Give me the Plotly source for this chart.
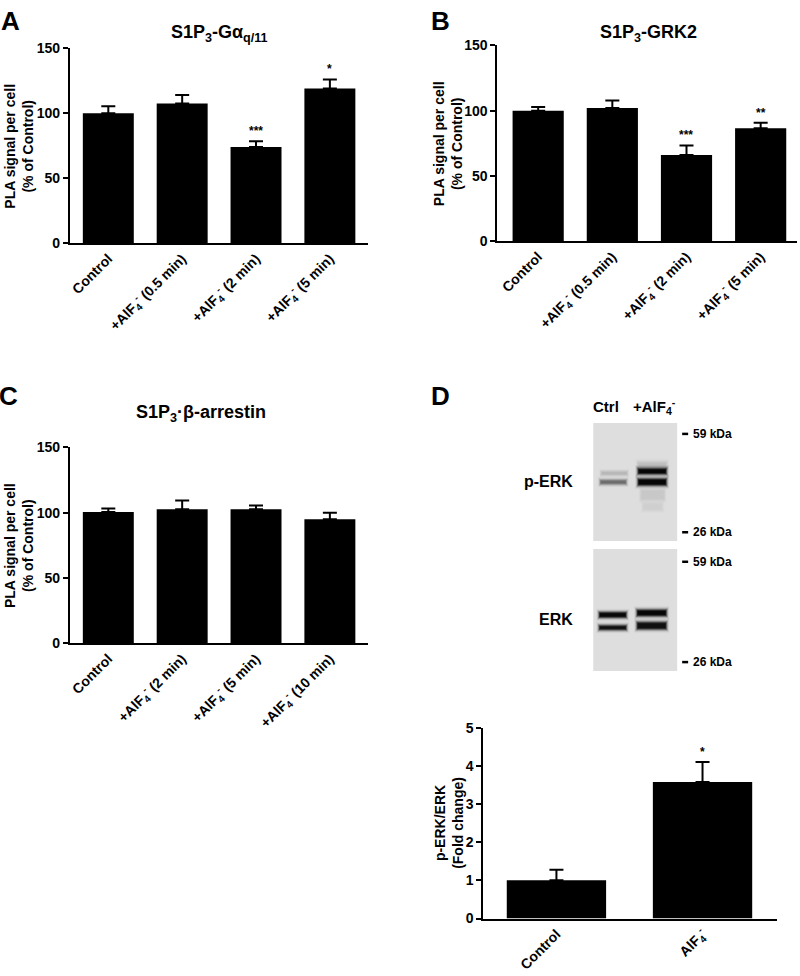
import math
import plotly.graph_objects as go

# ---------------- data ----------------
cats_A = ["Control", "+AlF<sub>4</sub><sup>-</sup> (0.5 min)",
          "+AlF<sub>4</sub><sup>-</sup> (2 min)", "+AlF<sub>4</sub><sup>-</sup> (5 min)"]
vals_A = [100, 107.5, 74, 119]
err_A = [5.3, 6.6, 4.5, 7]
sig_A = ["", "", "***", "*"]

cats_B = cats_A
vals_B = [100, 102, 66, 86.5]
err_B = [2.8, 5.8, 7.3, 4.2]
sig_B = ["", "", "***", "**"]

cats_C = ["Control", "+AlF<sub>4</sub><sup>-</sup> (2 min)",
          "+AlF<sub>4</sub><sup>-</sup> (5 min)", "+AlF<sub>4</sub><sup>-</sup> (10 min)"]
vals_C = [100.5, 102.5, 102.5, 95]
err_C = [2.6, 6.8, 3.0, 5.0]
sig_C = ["", "", "", ""]

cats_D = ["Control", "AlF<sub>4</sub><sup>-</sup>"]
vals_D = [1.0, 3.58]
err_D = [0.28, 0.52]
sig_D = ["", "*"]

# ---------------- helpers ----------------
W, H = 800, 976
FONT = "Liberation Sans, Arial, Helvetica, sans-serif"


def px(x):
    return x / W


def py(y):
    return 1 - y / H


fig = go.Figure()
annotations = []
shapes = []

panels = [
    # name, cats, vals, err, sig, x-dom px, y-dom px (bottom, top), xrange, yrange, dtick, width
    ("", cats_A, vals_A, err_A, sig_A, (69, 367), (239, 41), [-0.52, 3.51], [0, 150], 50, 0.69),
    ("2", cats_B, vals_B, err_B, sig_B, (497, 797), (237, 38), [-0.55, 3.49], [0, 150], 50, 0.69),
    ("3", cats_C, vals_C, err_C, sig_C, (69, 367), (645.7, 446.7), [-0.52, 3.51], [0, 150], 50, 0.69),
    ("4", cats_D, vals_D, err_D, sig_D, (483, 777), (925.7, 731.7), [-0.5, 1.51], [0, 5], 1, 0.68),
]

layout_axes = {}
for name, cats, vals, err, sig, xd, yd, xr, yr, dt, bw in panels:
    xa = "x" + name
    ya = "y" + name
    fig.add_trace(go.Bar(
        x=cats, y=vals, xaxis=xa, yaxis=ya, width=bw,
        marker=dict(color="black", line=dict(width=0)),
        error_y=dict(type="data", array=err, arrayminus=[0] * len(err), symmetric=False,
                     color="black", thickness=2, width=7),
        showlegend=False, hoverinfo="skip",
    ))
    layout_axes["xaxis" + name] = dict(
        domain=[px(xd[0]), px(xd[1])], anchor=ya, range=xr, type="category",
        showline=True, linewidth=2, linecolor="black", ticks="", showgrid=False,
        zeroline=False, tickangle=-45, fixedrange=True,
        tickfont=dict(family=FONT, size=14, color="black", weight="bold"),
    )
    layout_axes["yaxis" + name] = dict(
        domain=[py(yd[0]), py(yd[1])], anchor=xa, range=yr, dtick=dt,
        showline=True, linewidth=2, linecolor="black", ticks="outside",
        ticklen=5, tickwidth=2, tickcolor="black", showgrid=False, zeroline=False,
        fixedrange=True,
        tickfont=dict(family=FONT, size=14, color="black", weight="bold"),
    )
    for c, v, e, s in zip(cats, vals, err, sig):
        if s:
            annotations.append(dict(
                x=c, y=v + e, xref=xa, yref=ya, text=s, showarrow=False,
                yanchor="bottom", yshift=1,
                font=dict(family=FONT, size=12, color="black", weight="bold"),
            ))


def txt(x, y, text, size, angle=0, xanchor="center", yanchor="middle"):
    annotations.append(dict(
        x=px(x), y=py(y), xref="paper", yref="paper", text=text, showarrow=False,
        textangle=angle, xanchor=xanchor, yanchor=yanchor,
        font=dict(family=FONT, size=size, color="black", weight="bold"),
    ))


# panel letters
txt(10, 13, "A", 26)
txt(440, 13, "B", 26)
txt(8, 394, "C", 26)
txt(440, 394, "D", 26)

# titles
txt(219, 26, "S1P<sub>3</sub>-Gα<sub>q/11</sub>", 18)
txt(648, 26, "S1P<sub>3</sub>-GRK2", 18)
txt(200, 412, "S1P<sub>3</sub>·β-arrestin", 18)

# y titles
txt(18, 140, "PLA signal per cell<br>(% of Control)", 14, angle=-90)
txt(447, 138, "PLA signal per cell<br>(% of Control)", 14, angle=-90)
txt(18, 546, "PLA signal per cell<br>(% of Control)", 14, angle=-90)
txt(449, 828, "p-ERK/ERK<br>(Fold change)", 14, angle=-90)


# ---------------- western blot (panel D, image-like decoration) ----------------
def rect(x0, y0, x1, y1, color, opacity=1.0):
    shapes.append(dict(type="rect", xref="paper", yref="paper",
                       x0=px(x0), x1=px(x1), y0=py(y1), y1=py(y0),
                       fillcolor=color, opacity=opacity, line=dict(width=0), layer="above"))


def band(x0, x1, yc, h, core, sigma):
    # stacked translucent layers giving a soft (blurred) edge
    step = 0.5
    n = int(sigma * 2.5 / step)
    steps = [i * step for i in range(n, -1, -1)]

    def target(d):
        return core * math.exp(-(d / sigma) ** 2)

    for i, d in enumerate(steps):
        t_here = target(d)
        t_out = target(d + step) if i > 0 else 0.0
        a = 1 - (1 - t_here) / (1 - t_out)
        if a <= 0.002:
            continue
        hh = h / 2 + d
        dx = d * 0.8
        rect(x0 - dx, yc - hh, x1 + dx, yc + hh, "black", min(a, 1))


rect(593, 422, 677, 542, "#dedede")
rect(593, 550, 677, 674, "#dedede")

# p-ERK bands
band(602, 626, 473, 1, 0.16, 2.5)
band(601, 625, 482, 1.5, 0.5, 2.5)
band(639, 665, 465, 3, 0.12, 3.5)
band(639, 665, 471, 2.5, 0.97, 2.8)
band(639, 665, 482, 3.5, 0.97, 2.8)
band(642, 663, 495, 7, 0.09, 3.5)
band(644, 661, 507, 4, 0.06, 3.5)
# ERK bands
band(600, 625, 617, 2.5, 0.96, 2.6)
band(600, 625, 630, 1.5, 0.92, 2.6)
band(638, 665, 615, 3, 0.97, 2.8)
band(638, 665, 628, 4, 0.92, 2.8)

# MW markers
for ym, lab in [(433, "59 kDa"), (533, "26 kDa"), (563, "59 kDa"), (665, "26 kDa")]:
    shapes.append(dict(type="line", xref="paper", yref="paper",
                       x0=px(682), x1=px(688), y0=py(ym), y1=py(ym),
                       line=dict(color="black", width=2.5)))
    txt(691, ym, lab, 12, xanchor="left")

txt(606, 405, "Ctrl", 15)
txt(654, 405, "+AlF<sub>4</sub><sup>-</sup>", 15)
txt(575, 481, "p-ERK", 16, xanchor="right")
txt(575, 622, "ERK", 16, xanchor="right")

fig.update_layout(
    width=W, height=H, margin=dict(l=0, r=0, t=0, b=0),
    paper_bgcolor="white", plot_bgcolor="white",
    font=dict(family=FONT, color="black"),
    annotations=annotations, shapes=shapes, bargap=0.3,
    **layout_axes,
)

fig.write_html("out.html", config={"displayModeBar": False},
               post_script="document.body.style.margin='0';document.body.style.overflow='hidden';")
